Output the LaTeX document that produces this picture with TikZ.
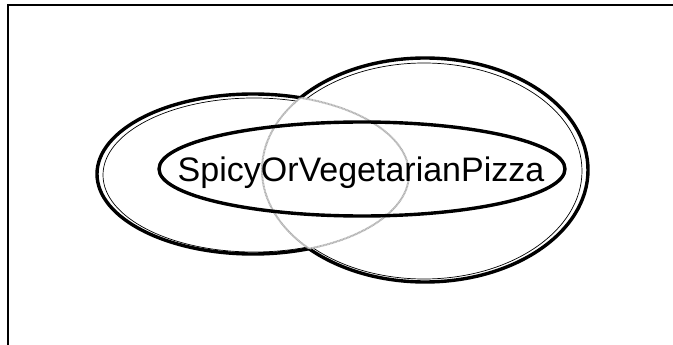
\documentclass[tikz,border=0pt]{standalone}
\usepackage{fontspec}
\setmainfont{Liberation Sans}
\begin{document}
\begin{tikzpicture}[x=1pt,y=-1pt,
  outline/.style={line width=3.4pt,black},
  sketch/.style={line width=0.7pt,black},
  hidden/.style={line width=2pt,gray!60,dash pattern=on 1pt off 0.5pt},
  frameline/.style={line width=1.3pt,black}]
\useasboundingbox (0,0) rectangle (673,345);
% frame (open at right and bottom)
\coordinate (fbl) at (8,346);
\coordinate (ftl) at (8,5);
\coordinate (ftr) at (674,5);
\draw[frameline] (fbl) -- (ftl) -- (ftr);
% ellipse centres
\coordinate (L) at (253,174);
\coordinate (R) at (425,170);
\coordinate (I) at (362,169);
% left ellipse: outer part (outside right ellipse)
\begin{scope}[even odd rule]
  \clip (-20,-20) rectangle (700,400) (R) ellipse [x radius=163,y radius=112];
  \draw[outline] (L) ellipse [x radius=156,y radius=80];
  \draw[sketch] ([shift={(1,1)}]L) ellipse [x radius=151,y radius=77];
\end{scope}
% right ellipse: outer part (outside left ellipse)
\begin{scope}[even odd rule]
  \clip (-20,-20) rectangle (700,400) (L) ellipse [x radius=156,y radius=80];
  \draw[outline] (R) ellipse [x radius=163,y radius=112];
  \draw[sketch] ([shift={(-1,1)}]R) ellipse [x radius=158,y radius=108];
\end{scope}
% hidden parts (inside the other ellipse)
\begin{scope}
  \clip (R) ellipse [x radius=163,y radius=112];
  \draw[hidden] (L) ellipse [x radius=156,y radius=80];
\end{scope}
\begin{scope}
  \clip (L) ellipse [x radius=156,y radius=80];
  \draw[hidden] (R) ellipse [x radius=163,y radius=112];
\end{scope}
% inner ellipse with label
\draw[outline] (I) ellipse [x radius=203,y radius=47];
\node[font=\fontsize{34}{40}\selectfont,inner sep=0pt,anchor=base] (lbl) at (361,182) {SpicyOrVegetarianPizza};
\end{tikzpicture}
\end{document}
